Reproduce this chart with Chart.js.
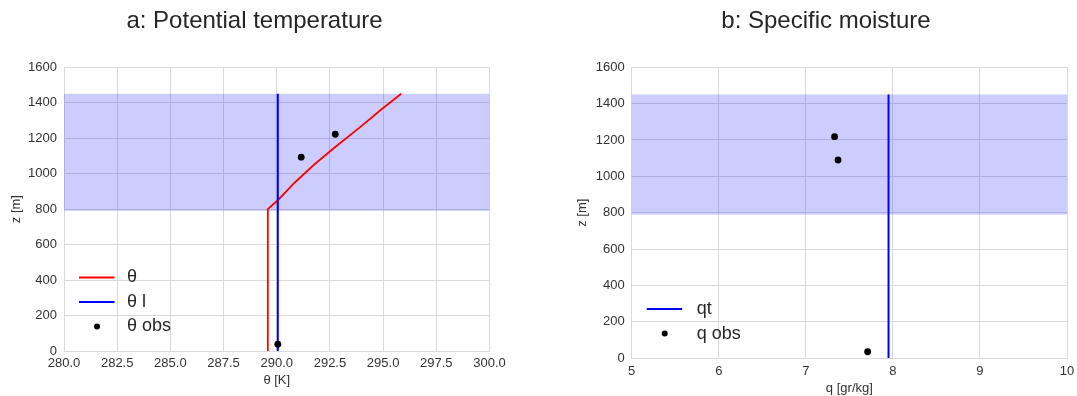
<!DOCTYPE html>
<html>
<head>
<title>Profiles</title>
<style>
  body { margin: 0; background: #fff; }
  .panel { position: absolute; top: 0; height: 396px; }
  #thetaPanel { left: 0; width: 509px; }
  #qPanel { left: 575px; width: 502px; }
</style>
</head>
<body>
<div class="panel" id="thetaPanel"><canvas id="thetaChart"></canvas></div>
<div class="panel" id="qPanel"><canvas id="qChart"></canvas></div>

<script src="https://cdn.jsdelivr.net/npm/chart.js"></script>
<script>
// cloud layer bounds [m]
const cloudBase = 790;
const cloudTop = 1450;

// potential temperature profiles
const thetaZ = [0, 800, 850, 950, 1050, 1150, 1265, 1360, 1450];
const theta = [289.56, 289.58, 290.05, 290.85, 291.75, 292.75, 293.95, 294.9, 295.85];
const thetaLZ = [0, 1450];
const thetaL = [290.05, 290.05];
const thetaObsZ = [38, 1093, 1222];
const thetaObs = [290.05, 291.15, 292.75];

// total specific moisture
const qtZ = [0, 1450];
const qt = [7.95, 7.95];
const qObsZ = [36, 1090, 1218];
const qObs = [7.71, 7.37, 7.33];

// axis ticks
const thetaTicks = [280, 282.5, 285, 287.5, 290, 292.5, 295, 297.5, 300];
const qTicks = [5, 6, 7, 8, 9, 10];
const zTicks = [0, 200, 400, 600, 800, 1000, 1200, 1400, 1600];

const family = 'Liberation Sans, Arial, sans-serif';
const gridColor = '#dadada';
const textColor = '#333';

const pts = (xs, zs) => xs.map((x, i) => ({ x: x, y: zs[i] }));

// shaded cloud layer behind the profiles
const cloudBand = {
    id: 'cloudBand',
    beforeDatasetsDraw(chart) {
        const { ctx, chartArea: a, scales: { y } } = chart;
        const top = y.getPixelForValue(cloudTop);
        const bottom = y.getPixelForValue(cloudBase);
        ctx.save();
        ctx.fillStyle = 'rgba(0, 0, 255, 0.2)';
        ctx.fillRect(a.left, top, a.right - a.left, bottom - top);
        ctx.restore();
    }
};

// legend drawn inside the plot, lower left
const insideLegend = {
    id: 'insideLegend',
    afterDraw(chart, args, opts) {
        const { ctx, chartArea: a } = chart;
        const sets = chart.data.datasets;
        ctx.save();
        ctx.font = '18px ' + family;
        ctx.textBaseline = 'middle';
        sets.forEach((ds, i) => {
            const y = a.bottom - opts.rowGap * (sets.length - i);
            const x = a.left + 15;
            if (ds.showLine) {
                ctx.strokeStyle = ds.borderColor;
                ctx.lineWidth = ds.borderWidth;
                ctx.beginPath();
                ctx.moveTo(x, y);
                ctx.lineTo(x + 35.5, y);
                ctx.stroke();
            } else {
                ctx.fillStyle = ds.backgroundColor;
                ctx.beginPath();
                ctx.arc(x + 18, y, 3, 0, Math.PI * 2);
                ctx.fill();
            }
            ctx.fillStyle = '#262626';
            ctx.fillText(ds.label, a.left + opts.textX, y);
        });
        ctx.restore();
    }
};

function scales(xTicks, xTitle, fmt, lay) {
    return {
        x: {
            type: 'linear',
            min: xTicks[0],
            max: xTicks[xTicks.length - 1],
            afterBuildTicks: s => { s.ticks = xTicks.map(v => ({ value: v })); },
            afterFit: s => { s.height = lay.xHeight; s.paddingRight = lay.padRight; },
            grid: { color: gridColor, lineWidth: 1, drawTicks: false },
            border: { color: gridColor },
            ticks: { padding: 5, color: textColor, font: { family, size: 13 }, maxRotation: 0, autoSkip: false, callback: fmt },
            title: { display: true, text: xTitle, color: textColor, font: { family, size: 13 }, padding: { top: 0, bottom: lay.xTitlePad } }
        },
        y: {
            type: 'linear',
            min: 0,
            max: 1600,
            afterBuildTicks: s => { s.ticks = zTicks.map(v => ({ value: v })); },
            afterFit: s => { s.width = lay.yWidth; },
            grid: { color: gridColor, lineWidth: 1, drawTicks: false },
            border: { color: gridColor },
            ticks: { padding: 7, color: textColor, font: { family, size: 13 }, callback: v => String(v) },
            title: { display: true, text: 'z [m]', color: textColor, font: { family, size: 13 }, padding: { top: lay.yTitlePad, bottom: 0 } }
        }
    };
}

function profileChart(id, title, datasets, xTicks, xTitle, fmt, lay) {
    return new Chart(document.getElementById(id), {
        type: 'scatter',
        data: { datasets: datasets },
        options: {
            responsive: true,
            maintainAspectRatio: false,
            animation: false,
            events: [],
            layout: { padding: 0 },
            scales: scales(xTicks, xTitle, fmt, lay),
            plugins: {
                legend: { display: false },
                tooltip: { enabled: false },
                title: {
                    display: true,
                    text: title,
                    color: '#262626',
                    font: { family, size: 24, weight: 'normal', lineHeight: 1.2 },
                    padding: { top: 7, bottom: 31.4 }
                },
                insideLegend: { rowGap: lay.rowGap, textX: lay.textX }
            }
        },
        plugins: [cloudBand, insideLegend]
    });
}

profileChart('thetaChart', 'a: Potential temperature', [
    { label: 'θ', data: pts(theta, thetaZ), showLine: true, borderColor: '#ff0000', borderWidth: 1.8, pointRadius: 0, order: 3 },
    { label: 'θ l', data: pts(thetaL, thetaLZ), showLine: true, borderColor: '#0000ff', borderWidth: 2, pointRadius: 0, order: 2 },
    { label: 'θ obs', data: pts(thetaObs, thetaObsZ), showLine: false, backgroundColor: '#000', borderWidth: 0, pointRadius: 3.4, order: 1 }
], thetaTicks, 'θ [K]', v => v.toFixed(1),
   { xHeight: 45, padRight: 19.5, yWidth: 64, yTitlePad: 9, xTitlePad: 8, rowGap: 24.5, textX: 63 });

profileChart('qChart', 'b: Specific moisture', [
    { label: 'qt', data: pts(qt, qtZ), showLine: true, borderColor: '#0000ff', borderWidth: 2, pointRadius: 0, order: 2 },
    { label: 'q obs', data: pts(qObs, qObsZ), showLine: false, backgroundColor: '#000', borderWidth: 0, pointRadius: 3.4, order: 1 }
], qTicks, 'q [gr/kg]', v => String(v),
   { xHeight: 37.7, padRight: 10, yWidth: 56.7, yTitlePad: 0, xTitlePad: 0, rowGap: 24.7, textX: 65 });
</script>
</body>
</html>
